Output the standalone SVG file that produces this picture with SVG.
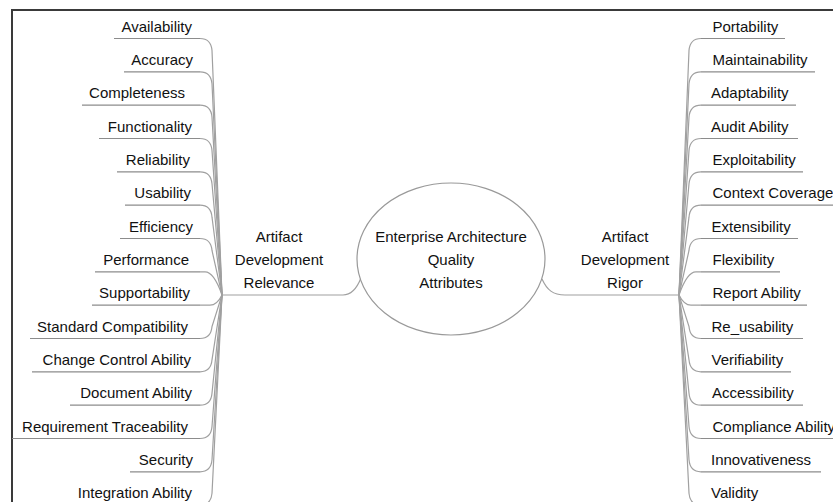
<svg xmlns="http://www.w3.org/2000/svg" width="833" height="502" viewBox="0 0 833 502">
<style>
text{font-family:"Liberation Sans",Arial,sans-serif;font-size:15px;fill:#111}
.l{text-anchor:end}
.c{text-anchor:middle}
.u{stroke:#8c8c8c;stroke-width:1.2;fill:none}
.k{stroke:#a0a0a0;stroke-width:1.2;fill:none}
.f{stroke:#3a3a3a;stroke-width:2;fill:none}
</style>
<rect width="833" height="502" fill="#fff"/>
<path class="f" d="M12,502 V10 H833"/>
<g id="connectors">
<path class="k" d="M200,38.5 Q211,38.5 212,50.5 L222,295"/>
<path class="k" d="M200,71.8 Q211,71.8 212,83.8 L222,295"/>
<path class="k" d="M200,105.2 Q211,105.2 212,117.2 L222,295"/>
<path class="k" d="M200,138.5 Q211,138.5 212,150.5 L222,295"/>
<path class="k" d="M200,171.8 Q211,171.8 212,183.8 L222,295"/>
<path class="k" d="M200,205.2 Q211,205.2 212,217.2 L222,295"/>
<path class="k" d="M200,238.5 Q211,238.5 212,250.5 L222,295"/>
<path class="k" d="M200,271.8 H205 Q214,271.8 222,295"/>
<path class="k" d="M200,305.2 H210 Q217,305.2 222,295"/>
<path class="k" d="M200,338.5 Q211,338.5 212,326.5 L222,295"/>
<path class="k" d="M200,371.8 Q211,371.8 212,359.8 L222,295"/>
<path class="k" d="M200,405.2 Q211,405.2 212,393.2 L222,295"/>
<path class="k" d="M200,438.5 Q211,438.5 212,426.5 L222,295"/>
<path class="k" d="M200,471.8 Q211,471.8 212,459.8 L222,295"/>
<path class="k" d="M200,505.2 Q211,505.2 212,493.2 L222,295"/>
<path class="k" d="M701,38.5 Q690,38.5 689,50.5 L679,295"/>
<path class="k" d="M701,71.8 Q690,71.8 689,83.8 L679,295"/>
<path class="k" d="M701,105.2 Q690,105.2 689,117.2 L679,295"/>
<path class="k" d="M701,138.5 Q690,138.5 689,150.5 L679,295"/>
<path class="k" d="M701,171.8 Q690,171.8 689,183.8 L679,295"/>
<path class="k" d="M701,205.2 Q690,205.2 689,217.2 L679,295"/>
<path class="k" d="M701,238.5 Q690,238.5 689,250.5 L679,295"/>
<path class="k" d="M701,271.8 H696 Q687,271.8 679,295"/>
<path class="k" d="M701,305.2 H691 Q684,305.2 679,295"/>
<path class="k" d="M701,338.5 Q690,338.5 689,326.5 L679,295"/>
<path class="k" d="M701,371.8 Q690,371.8 689,359.8 L679,295"/>
<path class="k" d="M701,405.2 Q690,405.2 689,393.2 L679,295"/>
<path class="k" d="M701,438.5 Q690,438.5 689,426.5 L679,295"/>
<path class="k" d="M701,471.8 Q690,471.8 689,459.8 L679,295"/>
<path class="k" d="M701,505.2 Q690,505.2 689,493.2 L679,295"/>
<path class="k" d="M222,295 H343 C352,295 357,288 361,278"/>
<path class="k" d="M679,295 H565 C553,295 547,290 542,279"/>
</g>
<g id="center">
<ellipse cx="451" cy="259" rx="94" ry="76" fill="#fff" stroke="#999" stroke-width="1.2"/>
<text class="c" x="451" y="241.5">Enterprise Architecture</text>
<text class="c" x="451" y="264.5">Quality</text>
<text class="c" x="451" y="287.5">Attributes</text>
</g>
<g id="relevance">
<text class="c" x="279" y="241.5">Artifact</text>
<text class="c" x="279" y="264.5">Development</text>
<text class="c" x="279" y="287.5">Relevance</text>
</g>
<g id="rigor">
<text class="c" x="625" y="241.5">Artifact</text>
<text class="c" x="625" y="264.5">Development</text>
<text class="c" x="625" y="287.5">Rigor</text>
</g>
<g id="availability"><line class="u" x1="114" y1="38.5" x2="200" y2="38.5"/><text class="l" x="192" y="31.5">Availability</text></g>
<g id="accuracy"><line class="u" x1="124" y1="71.8" x2="200" y2="71.8"/><text class="l" x="193" y="64.8">Accuracy</text></g>
<g id="completeness"><line class="u" x1="82" y1="105.2" x2="200" y2="105.2"/><text class="l" x="185" y="98.2">Completeness</text></g>
<g id="functionality"><line class="u" x1="99" y1="138.5" x2="200" y2="138.5"/><text class="l" x="192" y="131.5">Functionality</text></g>
<g id="reliability"><line class="u" x1="117" y1="171.8" x2="200" y2="171.8"/><text class="l" x="190" y="164.8">Reliability</text></g>
<g id="usability"><line class="u" x1="125" y1="205.2" x2="200" y2="205.2"/><text class="l" x="191" y="198.2">Usability</text></g>
<g id="efficiency"><line class="u" x1="120" y1="238.5" x2="200" y2="238.5"/><text class="l" x="193" y="231.5">Efficiency</text></g>
<g id="performance"><line class="u" x1="95" y1="271.8" x2="200" y2="271.8"/><text class="l" x="189" y="264.8">Performance</text></g>
<g id="supportability"><line class="u" x1="92" y1="305.2" x2="200" y2="305.2"/><text class="l" x="190" y="298.2">Supportability</text></g>
<g id="standard-compatibility"><line class="u" x1="30" y1="338.5" x2="200" y2="338.5"/><text class="l" x="188" y="331.5">Standard Compatibility</text></g>
<g id="change-control-ability"><line class="u" x1="32" y1="371.8" x2="200" y2="371.8"/><text class="l" x="191" y="364.8">Change Control Ability</text></g>
<g id="document-ability"><line class="u" x1="70" y1="405.2" x2="200" y2="405.2"/><text class="l" x="192" y="398.2">Document Ability</text></g>
<g id="requirement-traceability"><line class="u" x1="12" y1="438.5" x2="200" y2="438.5"/><text class="l" x="188" y="431.5">Requirement Traceability</text></g>
<g id="security"><line class="u" x1="130" y1="471.8" x2="200" y2="471.8"/><text class="l" x="193" y="464.8">Security</text></g>
<g id="integration-ability"><line class="u" x1="70" y1="505.2" x2="200" y2="505.2"/><text class="l" x="192" y="498.2">Integration Ability</text></g>
<g id="portability"><line class="u" x1="701" y1="38.5" x2="785" y2="38.5"/><text x="712.5" y="31.5">Portability</text></g>
<g id="maintainability"><line class="u" x1="701" y1="71.8" x2="815" y2="71.8"/><text x="712.5" y="64.8">Maintainability</text></g>
<g id="adaptability"><line class="u" x1="701" y1="105.2" x2="796" y2="105.2"/><text x="711" y="98.2">Adaptability</text></g>
<g id="audit-ability"><line class="u" x1="701" y1="138.5" x2="798" y2="138.5"/><text x="711" y="131.5">Audit Ability</text></g>
<g id="exploitability"><line class="u" x1="701" y1="171.8" x2="803" y2="171.8"/><text x="712.5" y="164.8">Exploitability</text></g>
<g id="context-coverage"><line class="u" x1="701" y1="205.2" x2="840" y2="205.2"/><text x="712.5" y="198.2">Context Coverage</text></g>
<g id="extensibility"><line class="u" x1="701" y1="238.5" x2="798" y2="238.5"/><text x="711.5" y="231.5">Extensibility</text></g>
<g id="flexibility"><line class="u" x1="701" y1="271.8" x2="780" y2="271.8"/><text x="712.5" y="264.8">Flexibility</text></g>
<g id="report-ability"><line class="u" x1="701" y1="305.2" x2="807" y2="305.2"/><text x="712.5" y="298.2">Report Ability</text></g>
<g id="re-usability"><line class="u" x1="701" y1="338.5" x2="803" y2="338.5"/><text x="711.5" y="331.5">Re_usability</text></g>
<g id="verifiability"><line class="u" x1="701" y1="371.8" x2="791" y2="371.8"/><text x="711.5" y="364.8">Verifiability</text></g>
<g id="accessibility"><line class="u" x1="701" y1="405.2" x2="803" y2="405.2"/><text x="712" y="398.2">Accessibility</text></g>
<g id="compliance-ability"><line class="u" x1="701" y1="438.5" x2="840" y2="438.5"/><text x="712.5" y="431.5">Compliance Ability</text></g>
<g id="innovativeness"><line class="u" x1="701" y1="471.8" x2="821" y2="471.8"/><text x="711" y="464.8">Innovativeness</text></g>
<g id="validity"><line class="u" x1="701" y1="505.2" x2="790" y2="505.2"/><text x="711" y="498.2">Validity</text></g>
</svg>
